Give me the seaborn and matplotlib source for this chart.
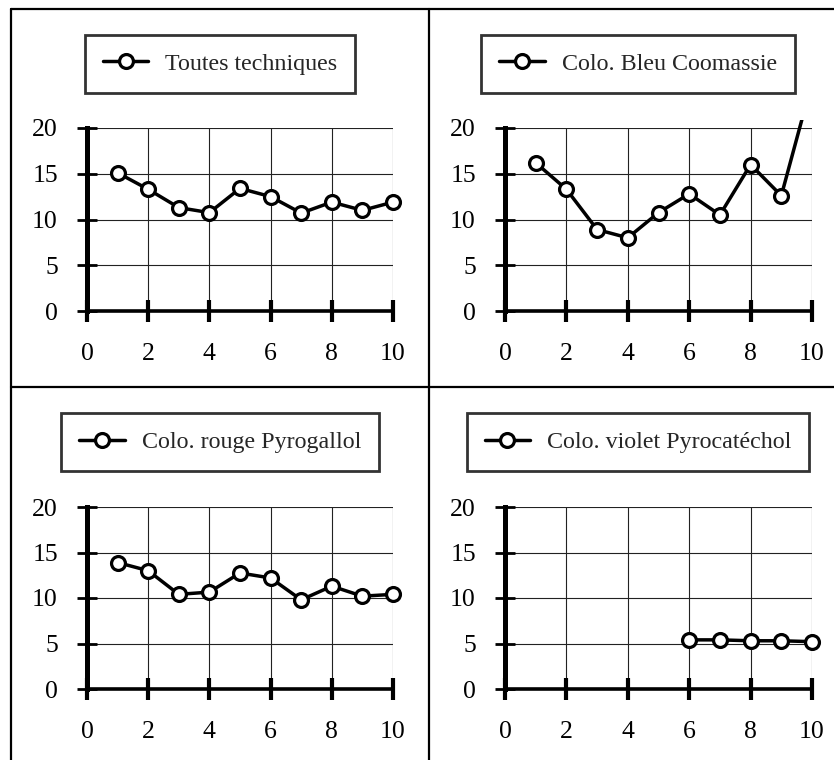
import numpy as np
import matplotlib
matplotlib.use("Agg")
import matplotlib.pyplot as plt
from matplotlib.lines import Line2D
from matplotlib.patches import Rectangle
import seaborn as sns

# data
x_all = [1, 2, 3, 4, 5, 6, 7, 8, 9, 10]
toutes = [15.1, 13.3, 11.3, 10.75, 13.4, 12.5, 10.7, 11.9, 11.0, 11.9]
bleu = [16.2, 13.3, 8.9, 8.0, 10.75, 12.8, 10.5, 16.0, 12.6, 25.0]
rouge = [13.9, 13.0, 10.4, 10.65, 12.75, 12.2, 9.8, 11.3, 10.2, 10.4]
x_violet = [6, 7, 8, 9, 10]
violet = [5.4, 5.4, 5.3, 5.3, 5.2]

names = ["Toutes techniques", "Colo. Bleu Coomassie",
         "Colo. rouge Pyrogallol", "Colo. violet Pyrocatéchol"]
xticks = [0, 2, 4, 6, 8, 10]
yticks = [0, 5, 10, 15, 20]

sns.set_theme(style="white")
plt.rcParams["font.family"] = ["Liberation Serif", "DejaVu Serif"]

W, H = 834, 760
fig = plt.figure(figsize=(W / 100, H / 100), dpi=100)

# axes boxes in pixels: left, right, top, bottom
boxes = [(87, 393, 128, 311), (505, 812, 128, 311),
         (87, 393, 507, 689), (505, 812, 507, 689)]
# legend centres in pixels
leg_centres = [(220, 64), (638, 64), (220, 442), (638, 442)]
series = [(x_all, toutes), (x_all, bleu), (x_all, rouge), (x_violet, violet)]

for i in range(4):
    l, r, t, b = boxes[i]
    ax = fig.add_axes([l / W, 1 - b / H, (r - l) / W, (b - t) / H])
    xs, ys = series[i]
    sns.lineplot(x=xs, y=ys, ax=ax, color="black", linewidth=2.5,
                 marker="o", markersize=10, markerfacecolor="white",
                 markeredgecolor="black", markeredgewidth=2.3, label=names[i])
    clip = Rectangle((-0.05, -0.05), 1.1, 1.094, transform=ax.transAxes)
    for ln in ax.lines:
        ln.set_clip_path(clip)

    ax.set_xlim(0, 10)
    ax.set_ylim(0, 20)
    ax.set_xticks(xticks)
    ax.set_yticks(yticks)
    ax.set_xlabel("")
    ax.set_ylabel("")
    ax.grid(True, color="#222222", linewidth=0.8)
    ax.set_axisbelow(True)
    ax.spines["top"].set_visible(False)
    ax.spines["right"].set_visible(False)
    ax.spines["left"].set_linewidth(3.6)
    ax.spines["bottom"].set_linewidth(2.6)
    ax.spines["left"].set_color("black")
    ax.spines["bottom"].set_color("black")
    ax.tick_params(axis="y", direction="inout", length=14, width=2,
                   pad=14, labelsize=18.5, colors="black", left=True)
    ax.tick_params(axis="x", direction="inout", length=16, width=3,
                   pad=15, labelsize=18.5, colors="black", bottom=True)

    cx, cy = leg_centres[i]
    leg = ax.legend(loc="center", bbox_to_anchor=(cx / W, 1 - cy / H),
                    bbox_transform=fig.transFigure, fontsize=17.3,
                    frameon=True, fancybox=False, borderpad=0.75,
                    handlelength=1.9, handletextpad=0.7)
    leg.get_frame().set_edgecolor("black")
    leg.get_frame().set_linewidth(2)

# panel separators
lw = 1.6
fig.add_artist(Line2D([10.7 / W, 10.7 / W], [0, 1 - 9 / H], color="black", lw=lw))
fig.add_artist(Line2D([10.7 / W, 1], [1 - 9 / H, 1 - 9 / H], color="black", lw=lw))
fig.add_artist(Line2D([429 / W, 429 / W], [0, 1 - 9 / H], color="black", lw=lw))
fig.add_artist(Line2D([10.7 / W, 1], [1 - 387 / H, 1 - 387 / H], color="black", lw=lw))

fig.savefig("out.png", dpi=100)
